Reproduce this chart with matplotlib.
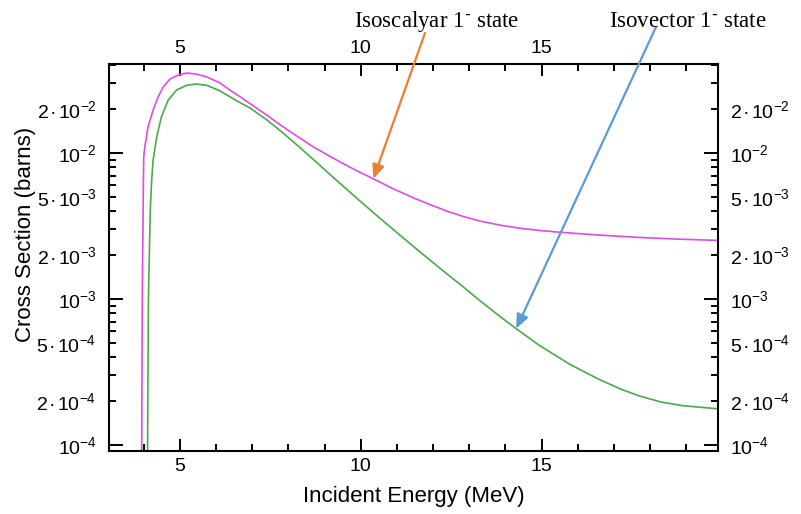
import numpy as np
import matplotlib
matplotlib.use("Agg")
import matplotlib.pyplot as plt
from matplotlib.ticker import LogLocator, MultipleLocator, FixedLocator, FuncFormatter

plt.rcParams['font.family'] = ['Liberation Sans', 'DejaVu Sans']
plt.rcParams['mathtext.default'] = 'regular'

# isoscalar 1- state (upper curve), energy in MeV, cross section in barns
e_isoscalar = [3.94, 3.96, 3.99, 4.00, 4.03, 4.12, 4.26, 4.40, 4.54, 4.72, 4.95,
               5.19, 5.46, 5.74, 6.10, 6.38, 6.66, 7.0, 7.4, 7.76, 8.3, 8.67,
               9.2, 9.61, 10.0, 10.39, 10.9, 11.44, 11.9, 12.38, 12.8, 13.29,
               13.9, 14.5, 15.0, 15.55, 16.5, 17.7, 18.8, 19.88]
xs_isoscalar = [5e-5, 1e-3, 6e-3, 9.4e-3, 0.011, 0.0151, 0.0197, 0.0243, 0.0283,
                0.032, 0.0342, 0.0353, 0.0347, 0.0332, 0.0303, 0.027, 0.0243,
                0.02128, 0.0182, 0.01567, 0.01274, 0.01109, 9.33e-3, 8.22e-3,
                7.33e-3, 6.58e-3, 5.69e-3, 4.95e-3, 4.45e-3, 4.0e-3, 3.70e-3,
                3.42e-3, 3.19e-3, 3.03e-3, 2.94e-3, 2.86e-3, 2.75e-3, 2.64e-3,
                2.57e-3, 2.52e-3]

# isovector 1- state (lower curve)
e_isovector = [4.10, 4.13, 4.18, 4.22, 4.26, 4.36, 4.49, 4.68, 4.91, 5.19, 5.46,
               5.74, 6.10, 6.57, 6.93, 7.4, 7.85, 8.3, 8.67, 9.2, 9.61, 9.9,
               10.5, 11.0, 11.44, 11.9, 12.38, 12.8, 13.29, 13.75, 14.2, 14.94,
               15.8, 16.6, 17.2, 17.7, 18.3, 18.9, 19.88]
xs_isovector = [5e-5, 1e-3, 4e-3, 6.5e-3, 8.95e-3, 0.0129, 0.0177, 0.0231, 0.027,
                0.0291, 0.0297, 0.0291, 0.0267, 0.0228, 0.0204, 0.0169, 0.01374,
                0.01101, 9.12e-3, 6.95e-3, 5.65e-3, 4.88e-3, 3.63e-3, 2.85e-3,
                2.31e-3, 1.86e-3, 1.49e-3, 1.23e-3, 9.77e-4, 7.94e-4, 6.53e-4,
                4.81e-4, 3.55e-4, 2.81e-4, 2.41e-4, 2.17e-4, 1.97e-4, 1.86e-4,
                1.77e-4]

x_major = [5, 10, 15]
label_isoscalar = "Isoscalyar 1$^{\\text{-}}$ state"
label_isovector = "Isovector 1$^{\\text{-}}$ state"
arrow_e_isoscalar = 10.35
arrow_e_isovector = 14.3


def log_interp(e, es, ys):
    return 10 ** np.interp(e, es, np.log10(ys))


def sci_label(v, pos):
    exp = int(np.floor(np.log10(v) + 1e-6))
    mant = int(round(v / 10.0 ** exp))
    if mant == 1:
        return "10$^{%d}$" % exp
    if mant in (2, 5):
        return "%d$\\hspace{0.1}$\u00b7$\\hspace{0.1}$10$^{%d}$" % (mant, exp)
    return ""


fig = plt.figure(figsize=(8.01, 5.14), dpi=100)
ax = fig.add_axes([109 / 801, 63 / 514, 609 / 801, 387 / 514])

ax.plot(e_isoscalar, xs_isoscalar, color='#e04ce0', lw=1.2)
ax.plot(e_isovector, xs_isovector, color='#4aaa4a', lw=1.2)

ax.set_yscale('log')
ax.set_xlim(3.04, 19.88)
ax.set_ylim(9.1e-5, 0.0407)

ax.xaxis.set_major_locator(FixedLocator(x_major))
ax.xaxis.set_minor_locator(MultipleLocator(1))
ax.yaxis.set_major_locator(LogLocator(base=10, numticks=20))
ax.yaxis.set_minor_locator(LogLocator(base=10, subs=np.arange(2, 10), numticks=20))
ax.yaxis.set_major_formatter(FuncFormatter(sci_label))
ax.yaxis.set_minor_formatter(FuncFormatter(sci_label))

ax.tick_params(which='both', direction='in', top=True, right=True,
               labeltop=True, labelright=True, width=1.4, labelsize=14)
ax.tick_params(axis='x', which='major', length=8.5, pad=5)
ax.tick_params(axis='x', which='minor', length=4.7)
ax.tick_params(axis='y', which='major', length=10, pad=9)
ax.tick_params(axis='y', which='minor', length=5, pad=9)
for s in ax.spines.values():
    s.set_linewidth(1.5)

ax.set_xlabel("Incident Energy (MeV)", fontsize=16, labelpad=8)
ax.set_ylabel("Cross Section (barns)", fontsize=16, labelpad=6)
ax.yaxis.set_label_coords(-0.12, 0.56)

# labels above the frame with arrows down to each curve
fig.text(437 / 801, 1 - 27 / 514, label_isoscalar, family='Liberation Serif',
         fontsize=16.5, ha='center', va='baseline')
fig.text(688 / 801, 1 - 27 / 514, label_isovector, family='Liberation Serif',
         fontsize=16.5, ha='center', va='baseline')

arrow_style = '-|>,head_length=0.85,head_width=0.36'
ax.annotate('', xy=(arrow_e_isoscalar,
                    log_interp(arrow_e_isoscalar, e_isoscalar, xs_isoscalar)),
            xytext=(425 / 801, 1 - 33 / 514), textcoords='figure fraction',
            arrowprops=dict(arrowstyle=arrow_style, mutation_scale=10,
                            color='#ed7d31', lw=1.6, shrinkA=0, shrinkB=0),
            annotation_clip=False)
ax.annotate('', xy=(arrow_e_isovector,
                    log_interp(arrow_e_isovector, e_isovector, xs_isovector)),
            xytext=(656 / 801, 1 - 27 / 514), textcoords='figure fraction',
            arrowprops=dict(arrowstyle=arrow_style, mutation_scale=10,
                            color='#5b9bd5', lw=1.6, shrinkA=0, shrinkB=0),
            annotation_clip=False)

fig.savefig("out.png", dpi=100)
